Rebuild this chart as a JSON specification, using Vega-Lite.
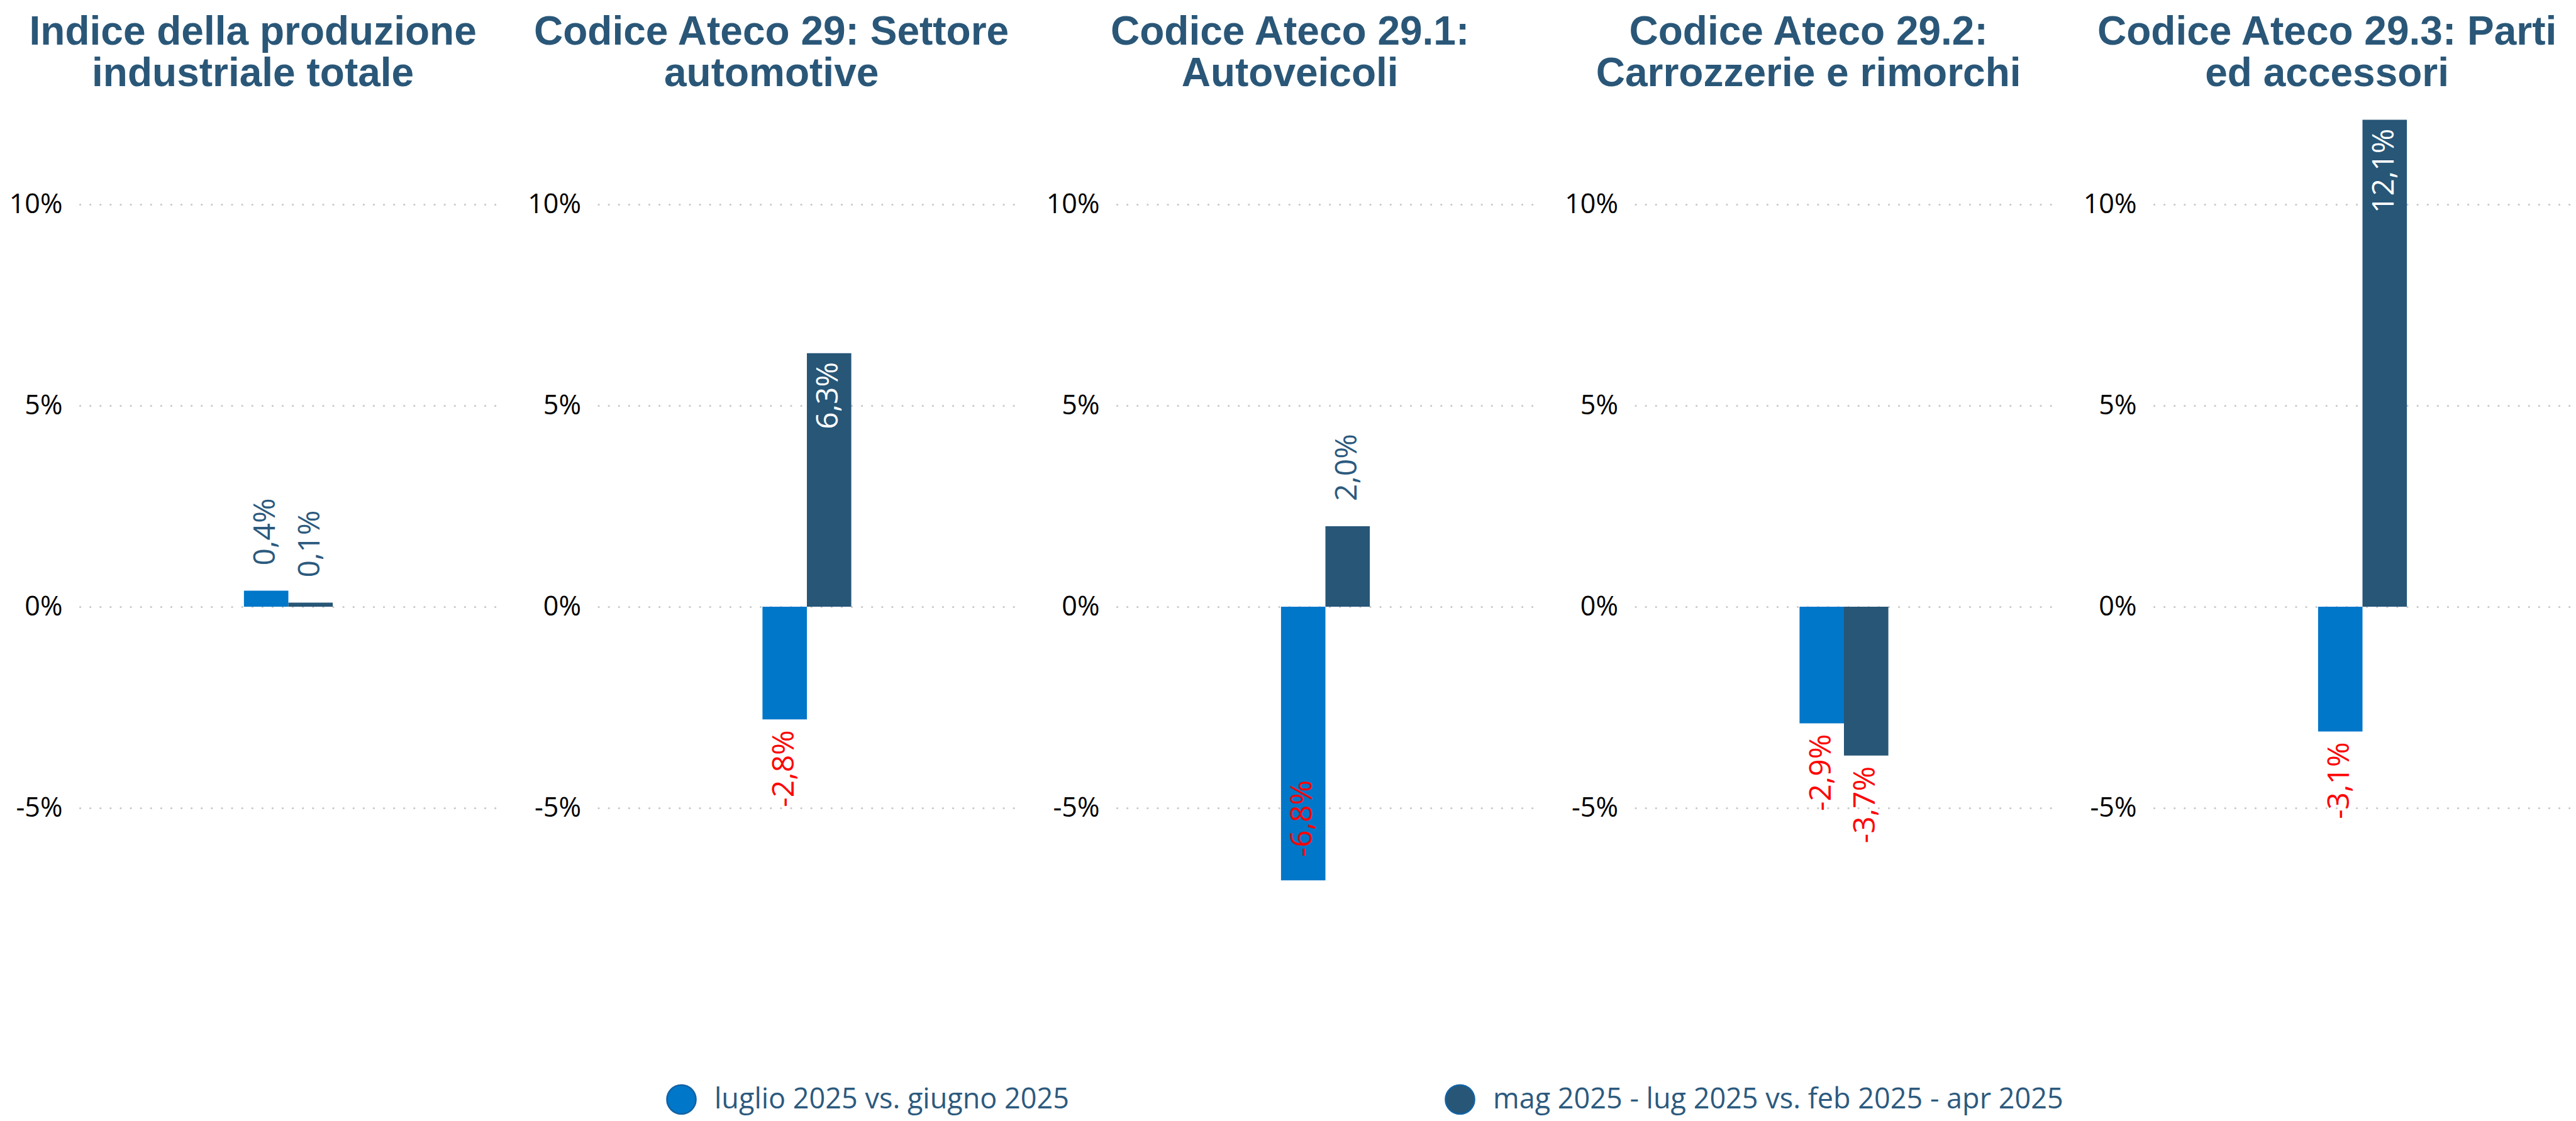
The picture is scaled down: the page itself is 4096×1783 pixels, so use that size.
{
  "$schema": "https://vega.github.io/schema/vega-lite/v6.json",
  "padding": {"left": 14, "top": 20, "right": 0, "bottom": 4},
  "background": "white",
  "bounds": "flush",
  "spacing": 161.5,
  "data": {
    "values": [
      {"panel": "P1", "series": "luglio 2025 vs. giugno 2025", "value": 0.4, "label": "0,4%"},
      {"panel": "P1", "series": "mag 2025 - lug 2025 vs. feb 2025 - apr 2025", "value": 0.1, "label": "0,1%"},
      {"panel": "P2", "series": "luglio 2025 vs. giugno 2025", "value": -2.8, "label": "-2,8%"},
      {"panel": "P2", "series": "mag 2025 - lug 2025 vs. feb 2025 - apr 2025", "value": 6.3, "label": "6,3%"},
      {"panel": "P3", "series": "luglio 2025 vs. giugno 2025", "value": -6.8, "label": "-6,8%"},
      {"panel": "P3", "series": "mag 2025 - lug 2025 vs. feb 2025 - apr 2025", "value": 2.0, "label": "2,0%"},
      {"panel": "P4", "series": "luglio 2025 vs. giugno 2025", "value": -2.9, "label": "-2,9%"},
      {"panel": "P4", "series": "mag 2025 - lug 2025 vs. feb 2025 - apr 2025", "value": -3.7, "label": "-3,7%"},
      {"panel": "P5", "series": "luglio 2025 vs. giugno 2025", "value": -3.1, "label": "-3,1%"},
      {"panel": "P5", "series": "mag 2025 - lug 2025 vs. feb 2025 - apr 2025", "value": 12.1, "label": "12,1%"}
    ]
  },
  "hconcat": [
    {
      "width": 663, "height": 1408,
      "title": {"text": ["Indice della produzione", "industriale totale"]},
      "transform": [{"filter": "datum.panel === 'P1'"}],
      "encoding": {
        "x": {"field": "panel", "type": "nominal", "axis": null, "scale": {"paddingInner": 0, "paddingOuter": 1}},
        "xOffset": {"field": "series", "type": "nominal", "sort": ["luglio 2025 vs. giugno 2025", "mag 2025 - lug 2025 vs. feb 2025 - apr 2025"], "scale": {"paddingInner": 0, "paddingOuter": 0.565}},
        "y": {"field": "value", "type": "quantitative", "stack": null, "scale": {"domain": [-9.5, 12.5], "nice": false, "zero": false}, "axis": {"values": [-5, 0, 5, 10], "labelExpr": "datum.value + '%'", "title": null}}
      },
      "layer": [
        {"mark": {"type": "bar"}, "encoding": {"color": {"field": "series", "type": "nominal", "scale": {"domain": ["luglio 2025 vs. giugno 2025", "mag 2025 - lug 2025 vs. feb 2025 - apr 2025"], "range": ["#0177C9", "#275677"]}, "legend": {"title": null, "orient": "none", "legendX": 932, "legendY": 1559, "direction": "horizontal", "columns": 2, "symbolStrokeColor": "#1262A4", "symbolStrokeWidth": 2.5}}}},
        {"transform": [{"filter": "datum.value > 0 && datum.value < 5"}], "mark": {"type": "text", "angle": 270, "align": "left", "baseline": "middle", "dx": 40, "color": "#2C5A7E"}, "encoding": {"text": {"field": "label"}}},
        {"transform": [{"filter": "datum.value >= 5"}], "mark": {"type": "text", "angle": 270, "align": "right", "baseline": "middle", "dx": -14, "color": "#FFFFFF"}, "encoding": {"text": {"field": "label"}}},
        {"transform": [{"filter": "datum.value < 0 && datum.value > -5"}], "mark": {"type": "text", "angle": 270, "align": "right", "baseline": "middle", "dx": -17, "color": "#FF0000"}, "encoding": {"text": {"field": "label"}}},
        {"transform": [{"filter": "datum.value <= -5"}], "mark": {"type": "text", "angle": 270, "align": "left", "baseline": "middle", "dx": 37, "color": "#FF0000"}, "encoding": {"text": {"field": "label"}}}
      ]
    },
    {
      "width": 663, "height": 1408,
      "title": {"text": ["Codice Ateco 29: Settore", "automotive"]},
      "transform": [{"filter": "datum.panel === 'P2'"}],
      "encoding": {
        "x": {"field": "panel", "type": "nominal", "axis": null, "scale": {"paddingInner": 0, "paddingOuter": 1}},
        "xOffset": {"field": "series", "type": "nominal", "sort": ["luglio 2025 vs. giugno 2025", "mag 2025 - lug 2025 vs. feb 2025 - apr 2025"], "scale": {"paddingInner": 0, "paddingOuter": 0.565}},
        "y": {"field": "value", "type": "quantitative", "stack": null, "scale": {"domain": [-9.5, 12.5], "nice": false, "zero": false}, "axis": {"values": [-5, 0, 5, 10], "labelExpr": "datum.value + '%'", "title": null}}
      },
      "layer": [
        {"mark": {"type": "bar"}, "encoding": {"color": {"field": "series", "type": "nominal"}}},
        {"transform": [{"filter": "datum.value > 0 && datum.value < 5"}], "mark": {"type": "text", "angle": 270, "align": "left", "baseline": "middle", "dx": 40, "color": "#2C5A7E"}, "encoding": {"text": {"field": "label"}}},
        {"transform": [{"filter": "datum.value >= 5"}], "mark": {"type": "text", "angle": 270, "align": "right", "baseline": "middle", "dx": -14, "color": "#FFFFFF"}, "encoding": {"text": {"field": "label"}}},
        {"transform": [{"filter": "datum.value < 0 && datum.value > -5"}], "mark": {"type": "text", "angle": 270, "align": "right", "baseline": "middle", "dx": -17, "color": "#FF0000"}, "encoding": {"text": {"field": "label"}}},
        {"transform": [{"filter": "datum.value <= -5"}], "mark": {"type": "text", "angle": 270, "align": "left", "baseline": "middle", "dx": 37, "color": "#FF0000"}, "encoding": {"text": {"field": "label"}}}
      ]
    },
    {
      "width": 663, "height": 1408,
      "title": {"text": ["Codice Ateco 29.1:", "Autoveicoli"]},
      "transform": [{"filter": "datum.panel === 'P3'"}],
      "encoding": {
        "x": {"field": "panel", "type": "nominal", "axis": null, "scale": {"paddingInner": 0, "paddingOuter": 1}},
        "xOffset": {"field": "series", "type": "nominal", "sort": ["luglio 2025 vs. giugno 2025", "mag 2025 - lug 2025 vs. feb 2025 - apr 2025"], "scale": {"paddingInner": 0, "paddingOuter": 0.565}},
        "y": {"field": "value", "type": "quantitative", "stack": null, "scale": {"domain": [-9.5, 12.5], "nice": false, "zero": false}, "axis": {"values": [-5, 0, 5, 10], "labelExpr": "datum.value + '%'", "title": null}}
      },
      "layer": [
        {"mark": {"type": "bar"}, "encoding": {"color": {"field": "series", "type": "nominal"}}},
        {"transform": [{"filter": "datum.value > 0 && datum.value < 5"}], "mark": {"type": "text", "angle": 270, "align": "left", "baseline": "middle", "dx": 40, "color": "#2C5A7E"}, "encoding": {"text": {"field": "label"}}},
        {"transform": [{"filter": "datum.value >= 5"}], "mark": {"type": "text", "angle": 270, "align": "right", "baseline": "middle", "dx": -14, "color": "#FFFFFF"}, "encoding": {"text": {"field": "label"}}},
        {"transform": [{"filter": "datum.value < 0 && datum.value > -5"}], "mark": {"type": "text", "angle": 270, "align": "right", "baseline": "middle", "dx": -17, "color": "#FF0000"}, "encoding": {"text": {"field": "label"}}},
        {"transform": [{"filter": "datum.value <= -5"}], "mark": {"type": "text", "angle": 270, "align": "left", "baseline": "middle", "dx": 37, "color": "#FF0000"}, "encoding": {"text": {"field": "label"}}}
      ]
    },
    {
      "width": 663, "height": 1408,
      "title": {"text": ["Codice Ateco 29.2:", "Carrozzerie e rimorchi"]},
      "transform": [{"filter": "datum.panel === 'P4'"}],
      "encoding": {
        "x": {"field": "panel", "type": "nominal", "axis": null, "scale": {"paddingInner": 0, "paddingOuter": 1}},
        "xOffset": {"field": "series", "type": "nominal", "sort": ["luglio 2025 vs. giugno 2025", "mag 2025 - lug 2025 vs. feb 2025 - apr 2025"], "scale": {"paddingInner": 0, "paddingOuter": 0.565}},
        "y": {"field": "value", "type": "quantitative", "stack": null, "scale": {"domain": [-9.5, 12.5], "nice": false, "zero": false}, "axis": {"values": [-5, 0, 5, 10], "labelExpr": "datum.value + '%'", "title": null}}
      },
      "layer": [
        {"mark": {"type": "bar"}, "encoding": {"color": {"field": "series", "type": "nominal"}}},
        {"transform": [{"filter": "datum.value > 0 && datum.value < 5"}], "mark": {"type": "text", "angle": 270, "align": "left", "baseline": "middle", "dx": 40, "color": "#2C5A7E"}, "encoding": {"text": {"field": "label"}}},
        {"transform": [{"filter": "datum.value >= 5"}], "mark": {"type": "text", "angle": 270, "align": "right", "baseline": "middle", "dx": -14, "color": "#FFFFFF"}, "encoding": {"text": {"field": "label"}}},
        {"transform": [{"filter": "datum.value < 0 && datum.value > -5"}], "mark": {"type": "text", "angle": 270, "align": "right", "baseline": "middle", "dx": -17, "color": "#FF0000"}, "encoding": {"text": {"field": "label"}}},
        {"transform": [{"filter": "datum.value <= -5"}], "mark": {"type": "text", "angle": 270, "align": "left", "baseline": "middle", "dx": 37, "color": "#FF0000"}, "encoding": {"text": {"field": "label"}}}
      ]
    },
    {
      "width": 663, "height": 1408,
      "title": {"text": ["Codice Ateco 29.3: Parti", "ed accessori"]},
      "transform": [{"filter": "datum.panel === 'P5'"}],
      "encoding": {
        "x": {"field": "panel", "type": "nominal", "axis": null, "scale": {"paddingInner": 0, "paddingOuter": 1}},
        "xOffset": {"field": "series", "type": "nominal", "sort": ["luglio 2025 vs. giugno 2025", "mag 2025 - lug 2025 vs. feb 2025 - apr 2025"], "scale": {"paddingInner": 0, "paddingOuter": 0.565}},
        "y": {"field": "value", "type": "quantitative", "stack": null, "scale": {"domain": [-9.5, 12.5], "nice": false, "zero": false}, "axis": {"values": [-5, 0, 5, 10], "labelExpr": "datum.value + '%'", "title": null}}
      },
      "layer": [
        {"mark": {"type": "bar"}, "encoding": {"color": {"field": "series", "type": "nominal"}}},
        {"transform": [{"filter": "datum.value > 0 && datum.value < 5"}], "mark": {"type": "text", "angle": 270, "align": "left", "baseline": "middle", "dx": 40, "color": "#2C5A7E"}, "encoding": {"text": {"field": "label"}}},
        {"transform": [{"filter": "datum.value >= 5"}], "mark": {"type": "text", "angle": 270, "align": "right", "baseline": "middle", "dx": -14, "color": "#FFFFFF"}, "encoding": {"text": {"field": "label"}}},
        {"transform": [{"filter": "datum.value < 0 && datum.value > -5"}], "mark": {"type": "text", "angle": 270, "align": "right", "baseline": "middle", "dx": -17, "color": "#FF0000"}, "encoding": {"text": {"field": "label"}}},
        {"transform": [{"filter": "datum.value <= -5"}], "mark": {"type": "text", "angle": 270, "align": "left", "baseline": "middle", "dx": 37, "color": "#FF0000"}, "encoding": {"text": {"field": "label"}}}
      ]
    }
  ],
  "config": {
    "view": {"stroke": null},
    "font": "Open Sans",
    "text": {"font": "Open Sans", "fontSize": 48},
    "axisY": {"grid": true, "gridColor": "#C8C8C8", "gridDash": [0.1, 16], "gridCap": "round", "gridWidth": 3.2, "domain": false, "ticks": false, "labelFont": "Open Sans", "labelFontSize": 43, "labelColor": "#000000", "labelPadding": 28},
    "title": {"font": "Liberation Sans", "fontSize": 64, "fontWeight": "bold", "color": "#2A5778", "anchor": "middle", "frame": "bounds", "baseline": "bottom", "lineHeight": 66, "offset": 15, "limit": 0},
    "legend": {"symbolType": "circle", "symbolSize": 2124, "labelFont": "Open Sans", "labelFontSize": 45, "labelColor": "#2C5A7E", "labelOffset": 28, "labelLimit": 1500, "columnPadding": 592, "padding": 0}
  }
}
